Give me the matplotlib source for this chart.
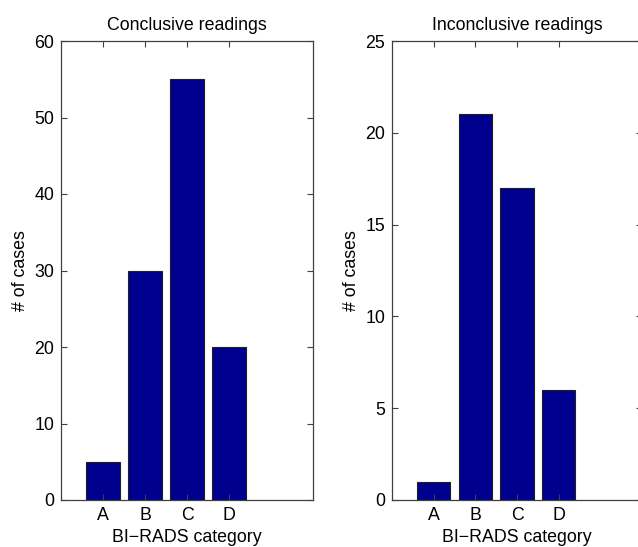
import matplotlib
matplotlib.use("Agg")
import matplotlib.pyplot as plt

categories = ["A", "B", "C", "D"]
conclusive = [5, 30, 55, 20]
inconclusive = [1, 21, 17, 6]
titles = ["Conclusive readings", "Inconclusive readings"]
yticks_left = [0, 10, 20, 30, 40, 50, 60]
yticks_right = [0, 5, 10, 15, 20, 25]

FS = 12.8
plt.rcParams['font.family'] = ['Liberation Sans', 'DejaVu Sans']
plt.rcParams['font.size'] = FS

W, H = 638, 547
fig = plt.figure(figsize=(W / 100, H / 100), dpi=100)

def make_axes(left_px, width_px, values, yticks, title):
    ax = fig.add_axes([left_px / W, (H - 500) / H, width_px / W, 459 / H])
    x = list(range(1, len(values) + 1))
    ax.bar(x, values, width=0.8, color="#00008F", edgecolor="#202020", linewidth=0.8)
    ax.set_xlim(0, 6)
    ax.set_ylim(yticks[0], yticks[-1])
    ax.set_xticks(x)
    ax.set_xticklabels(categories)
    ax.set_yticks(yticks)
    ax.tick_params(direction="in", length=4, width=0.8, top=True, right=True,
                   colors="#404040", labelcolor="black", labelsize=FS, pad=5)
    for s in ax.spines.values():
        s.set_color("#404040")
        s.set_linewidth(0.9)
    ax.set_xlabel("BI\u2212RADS category", fontsize=FS, labelpad=4)
    ax.set_ylabel("# of cases", fontsize=FS, labelpad=4)
    ax.set_title(title, fontsize=FS, pad=8)
    return ax

make_axes(61, 252, conclusive, yticks_left, titles[0])
ax2 = make_axes(392, 250, inconclusive, yticks_right, titles[1])
ax2.spines["right"].set_visible(False)

fig.savefig("out.png", dpi=100)
